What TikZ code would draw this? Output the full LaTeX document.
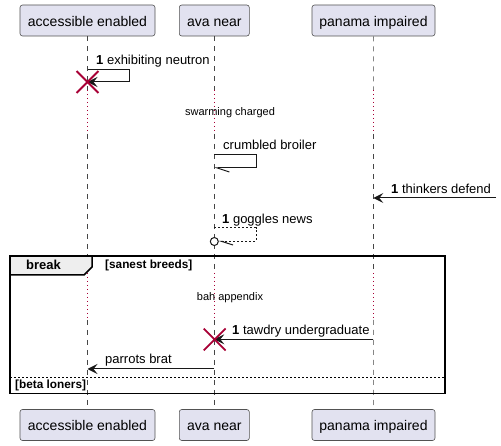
\documentclass[tikz,border=0pt]{standalone}
\usepackage{fontspec}
\setmainfont{Liberation Sans}
\usetikzlibrary{arrows.meta,shapes.misc}
\definecolor{pfill}{HTML}{E2E2F0}
\definecolor{ink}{HTML}{181818}
\definecolor{crim}{HTML}{A80036}
\definecolor{tabfill}{HTML}{EEEEEE}
\begin{document}
\begin{tikzpicture}[x=1pt,y=-1pt,
  part/.style={draw=ink!75, line width=0.6pt, fill=pfill, rounded corners=2.5pt,
    minimum height=31pt, inner sep=0pt, text height=12pt, text depth=0pt,
    font=\fontsize{14}{16}\selectfont},
  life/.style={draw=ink!80, line width=0.5pt, dash pattern=on 5pt off 5pt},
  delayline/.style={draw=crim, line width=0.8pt, dash pattern=on 0.8pt off 3.2pt},
  msgtxt/.style={anchor=base west, inner sep=0pt, font=\fontsize{13}{15}\selectfont},
  delaytxt/.style={anchor=base, inner sep=0pt, font=\fontsize{11}{13}\selectfont},
  grptxt/.style={anchor=base west, inner sep=0pt, font=\bfseries\fontsize{11.8}{13}\selectfont},
  msg/.style={draw=ink, line width=1pt, -{Stealth[length=10pt,width=10pt,inset=4pt]}},
  halfmsg/.style={draw=ink, line width=1pt, -{Straight Barb[length=12pt,width=8pt,left]}},
  destroy/.style={cross out, draw=crim, line width=1.8pt, minimum size=20pt, inner sep=0pt},
  ring/.style={circle, draw=ink, line width=1pt, fill=white, minimum size=8pt, inner sep=0pt}
]
\fill[white] (0,0) rectangle (501,446);
\useasboundingbox (0,0) rectangle (501,446);

% participants
\node[part, minimum width=135pt] (pA) at (87.5,20.5) {accessible enabled};
\node[part, minimum width=70pt] (pB) at (214.3,20.5) {ava near};
\node[part, minimum width=123pt] (pC) at (373.5,20.5) {panama impaired};
\node[part, minimum width=135pt] (qA) at (87.5,425) {accessible enabled};
\node[part, minimum width=70pt] (qB) at (214.3,425) {ava near};
\node[part, minimum width=123pt] (qC) at (373.5,425) {panama impaired};

% lifeline break points
\foreach \n/\x in {A/87.5,B/214.3,C/373.3}{
  \coordinate (\n1) at (\x,90);
  \coordinate (\n2) at (\x,134);
  \coordinate (\n3) at (\x,273);
  \coordinate (\n4) at (\x,320);
}
\foreach \n in {A,B,C}{
  \draw[life] (p\n.south) -- (\n1);
  \draw[delayline] (\n1) -- (\n2);
  \draw[life] (\n2) -- (\n3);
  \draw[delayline] (\n3) -- (\n4);
  \draw[life] (\n4) -- (q\n.north);
}

% delay texts
\node[delaytxt] (d1) at (230,115.5) {swarming charged};
\node[delaytxt] (d2) at (230,300.5) {bah appendix};

% message 1: self on A, destroyed
\coordinate (m1s) at (87.5,69.5);
\coordinate (m1e) at (87.5,82);
\draw[msg] (m1s) -- (129,69.5) -- (129,82) -- (m1e);
\node[destroy] (x1) at (87.5,82) {};
\node[msgtxt] (t1) at (96,65) {\textbf{1} exhibiting neutron};

% message 2: self on B, half arrow
\coordinate (m2s) at (214.3,155);
\coordinate (m2e) at (214.3,168);
\draw[halfmsg] (m2s) -- (256,155) -- (256,168) -- (m2e);
\node[msgtxt] (t2) at (223,150) {crumbled broiler};

% message 3: found message to C
\coordinate (m3s) at (496,198);
\coordinate (m3e) at (373.3,198);
\draw[msg] (m3s) -- (m3e);
\node[msgtxt] (t3) at (391,194) {\textbf{1} thinkers defend};

% message 4: dashed self on B with circle
\coordinate (m4s) at (214.3,228);
\node[ring] (r4) at (214.3,241.5) {};
\draw[draw=ink, line width=1pt, dash pattern=on 2pt off 2pt,
  -{Straight Barb[length=11pt,width=7pt,left]}] (m4s) -- (256,228) -- (256,241.5) -- (r4.east);
\node[msgtxt] (t4) at (222,224) {\textbf{1} goggles news};

% break group
\draw[black, line width=1.5pt, fill=tabfill] (10,256) -- (92,256) -- (92,267) -- (84,275) -- (10,275) -- cycle;
\draw[black, line width=1.5pt] (10,256) rectangle (445,393.7);
\node[anchor=base west, inner sep=0pt, font=\bfseries\fontsize{13}{15}\selectfont] (brk) at (26,270) {break};
\node[grptxt] (g1) at (105,269) {[sanest breeds]};
\draw[black, line width=1pt, dash pattern=on 2pt off 2pt] (10,377.7) -- (445,377.7);
\node[grptxt] (g2) at (15,389) {[beta loners]};

% message 5: C -> B, destroyed
\coordinate (m5s) at (373.3,339.3);
\coordinate (m5e) at (214.3,339.3);
\draw[msg] (m5s) -- (m5e);
\node[destroy] (x2) at (214.7,339.5) {};
\node[msgtxt] (t5) at (232,335) {\textbf{1} tawdry undergraduate};

% message 6: B -> A
\coordinate (m6s) at (214.3,369);
\coordinate (m6e) at (87.5,369);
\draw[msg] (m6s) -- (m6e);
\node[msgtxt] (t6) at (105,364) {parrots brat};
\end{tikzpicture}
\end{document}
